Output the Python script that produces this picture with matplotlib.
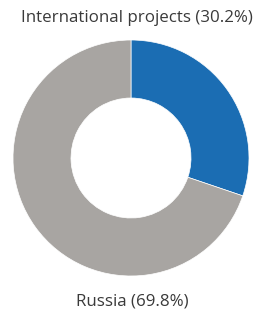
import matplotlib
matplotlib.use('Agg')
import matplotlib.pyplot as plt

# Data
labels = ['International projects', 'Russia']
shares = [30.2, 69.8]
colors = ['#1b6db3', '#a8a5a2']

fig = plt.figure(figsize=(2.76, 3.13), dpi=100)
ax = fig.add_axes([0, 0, 1, 1])

# Donut, clockwise from 12 o'clock
ax.pie(shares, colors=colors, startangle=90, counterclock=False,
       center=(131, 155), radius=118,
       wedgeprops=dict(width=58, edgecolor='white', linewidth=0.5))

ax.set_xlim(0, 276)
ax.set_ylim(0, 313)
ax.set_aspect('equal')
ax.axis('off')

ax.text(137, 295, f'{labels[0]} ({shares[0]}%)', ha='center', va='center',
        fontsize=12.2, family='Open Sans', color='#3a3a3a')
ax.text(132, 11, f'{labels[1]} ({shares[1]}%)', ha='center', va='center',
        fontsize=12.2, family='Open Sans', color='#3a3a3a')

plt.savefig('out.png', dpi=100)
plt.close()
